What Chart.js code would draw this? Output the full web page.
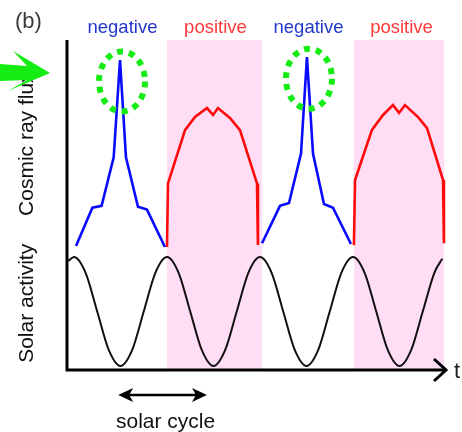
<!DOCTYPE html>
<html>
<head>
<meta charset="utf-8">
<script src="https://cdn.jsdelivr.net/npm/chart.js@4/dist/chart.umd.min.js"></script>
<style>
  html, body { margin: 0; padding: 0; background: #ffffff; }
  canvas { display: block; }
</style>
</head>
<body>
<canvas id="chart" width="462" height="432"></canvas>
<script>
// Time axis in arbitrary units: one solar cycle = 10 units, solar maxima at 0, 10, 20, ...
const periodNames = ['negative', 'positive', 'negative', 'positive'];
const periodCenters = [5, 15, 25, 35];
const positiveBands = [[10, 20.2], [30.1, 39.8]];
const solarCycleSpan = [4.75, 14.3];

// Cosmic ray flux (relative units) – negative polarity: sharp peak
const neg1T = [0.22, 1.98, 2.97, 4.27, 4.95, 5.59, 6.88, 7.85, 9.78];
const neg1F = [0.5, 21, 22, 48, 100, 48, 21.5, 20, 0];
const neg2T = [20.22, 22.15, 23.12, 24.41, 25.05, 25.7, 26.88, 27.85, 29.78];
const neg2F = [2, 22, 23.5, 50, 101.5, 50, 23, 21, 1.6];

// Cosmic ray flux – positive polarity: flat-topped plateau
const pos1T = [10.0, 10.11, 11.94, 13.01, 14.3, 14.95, 15.48, 16.77, 17.85, 19.68, 19.78];
const pos1F = [0, 34, 62.5, 69.5, 74.3, 70.6, 74.3, 69, 62.5, 34, 1];
const pos2T = [30.1, 30.22, 32.04, 33.23, 34.3, 34.95, 35.59, 36.99, 37.96, 39.68, 39.78];
const pos2F = [1, 35.8, 62.6, 70.6, 75.9, 71.7, 75.9, 69.5, 63.6, 35.8, 2];

// Solar activity (normalised)
const solarT = [-0.6, 0, 1.25, 2.5, 3.75, 5, 6.25, 7.5, 8.75, 10, 11.25, 12.5, 13.75, 15, 16.25, 17.5,
                18.75, 20, 21.25, 22.5, 23.75, 25, 26.25, 27.5, 28.75, 30, 31.25, 32.5, 33.75, 35,
                36.25, 37.5, 38.75, 39.6];
const solarA = [0.93, 1, 0.71, 0, -0.71, -1, -0.71, 0, 0.71, 1, 0.71, 0, -0.71, -1, -0.71, 0,
                0.71, 1, 0.71, 0, -0.71, -1, -0.71, 0, 0.71, 1, 0.71, 0, -0.71, -1,
                -0.71, 0, 0.71, 0.97];

const FONT = '"Liberation Sans", Arial, sans-serif';
const BLUE = '#0a0aff', RED = '#ff0a0a', PINK = 'rgb(255,221,245)', GREEN = '#14ec14';

const pts = (xs, ys) => xs.map((v, i) => ({ x: v, y: ys[i] }));

function lineSet(xs, ys, color, axis, width) {
  return {
    data: pts(xs, ys), yAxisID: axis, borderColor: color, borderWidth: width,
    pointRadius: 0, tension: 0, fill: false
  };
}

const solarSet = lineSet(solarT, solarA, '#111111', 'solar', 2);
solarSet.cubicInterpolationMode = 'monotone';

const decorations = {
  id: 'decorations',
  beforeDatasetsDraw(chart) {
    const { ctx, chartArea: a, scales: { x } } = chart;
    ctx.save();
    ctx.fillStyle = PINK;
    positiveBands.forEach(([s, e]) => {
      const l = x.getPixelForValue(s), r = x.getPixelForValue(e);
      ctx.fillRect(l, a.top, r - l, a.bottom - a.top);
    });
    ctx.restore();
  },
  afterDatasetsDraw(chart) {
    const { ctx, chartArea: a, scales: { x, flux, solar } } = chart;
    ctx.save();

    // axes
    ctx.strokeStyle = '#000';
    ctx.lineWidth = 3;
    ctx.lineCap = 'butt';
    ctx.beginPath();
    ctx.moveTo(a.left, a.top);
    ctx.lineTo(a.left, a.bottom + 1.5);
    ctx.moveTo(a.left - 1.5, a.bottom);
    ctx.lineTo(a.right, a.bottom);
    ctx.stroke();
    ctx.beginPath();
    ctx.lineJoin = 'miter';
    ctx.moveTo(a.right - 12, a.bottom - 11);
    ctx.lineTo(a.right, a.bottom);
    ctx.lineTo(a.right - 12, a.bottom + 11);
    ctx.stroke();

    // axis name "t"
    ctx.fillStyle = '#222';
    ctx.font = '22px ' + FONT;
    ctx.textAlign = 'left';
    ctx.textBaseline = 'alphabetic';
    ctx.fillText('t', a.right + 8, a.bottom + 8);

    // polarity labels
    ctx.font = '18.5px ' + FONT;
    ctx.textAlign = 'center';
    periodNames.forEach((name, i) => {
      ctx.fillStyle = name === 'negative' ? '#2238cc' : '#ff3838';
      ctx.fillText(name, x.getPixelForValue(periodCenters[i]) + 2, a.top - 7);
    });

    // panel label
    ctx.fillStyle = '#3a3a3a';
    ctx.font = '22px ' + FONT;
    ctx.textAlign = 'left';
    ctx.fillText('(b)', 15, 28);

    // vertical titles
    ctx.fillStyle = '#111';
    ctx.font = '21px ' + FONT;
    ctx.textAlign = 'center';
    [['Cosmic ray flux', flux.getPixelForValue(55)], ['Solar activity', solar.getPixelForValue(0.15)]]
      .forEach(([txt, cy]) => {
        ctx.save();
        ctx.translate(33, cy);
        ctx.rotate(-Math.PI / 2);
        ctx.fillText(txt, 0, 0);
        ctx.restore();
      });

    // solar cycle double arrow
    const l = x.getPixelForValue(solarCycleSpan[0]);
    const r = x.getPixelForValue(solarCycleSpan[1]);
    const ay = a.bottom + 25;
    ctx.strokeStyle = '#000';
    ctx.fillStyle = '#000';
    ctx.lineWidth = 2.5;
    ctx.beginPath();
    ctx.moveTo(l + 8, ay);
    ctx.lineTo(r - 8, ay);
    ctx.stroke();
    [[l, 1], [r, -1]].forEach(([px, d]) => {
      ctx.beginPath();
      ctx.moveTo(px, ay);
      ctx.lineTo(px + d * 15, ay - 7);
      ctx.lineTo(px + d * 11, ay);
      ctx.lineTo(px + d * 15, ay + 7);
      ctx.closePath();
      ctx.fill();
    });
    ctx.fillStyle = '#111';
    ctx.font = '21px ' + FONT;
    ctx.textAlign = 'center';
    ctx.fillText('solar cycle', (l + r) / 2 + 3, a.bottom + 58);

    // dotted rings around the negative-polarity peaks
    ctx.strokeStyle = GREEN;
    ctx.lineWidth = 6;
    ctx.setLineDash([6, 6]);
    [[neg1T, neg1F], [neg2T, neg2F]].forEach(([ts, fs]) => {
      const k = fs.indexOf(Math.max(...fs));
      const cx = x.getPixelForValue(ts[k]) + 2;
      const cy = flux.getPixelForValue(fs[k]) + 21.5;
      ctx.beginPath();
      ctx.ellipse(cx, cy, 23, 30, 0, 0, Math.PI * 2);
      ctx.stroke();
    });
    ctx.setLineDash([]);

    // green pointer arrow
    const tx = a.left - 17, ty = flux.getPixelForValue(93);
    const shape = [[-50, -9], [-23, -7], [-37, -22], [0, 0], [-42, 18], [-23, 7], [-50, 8]];
    ctx.fillStyle = GREEN;
    ctx.beginPath();
    shape.forEach(([dx, dy], i) => i ? ctx.lineTo(tx + dx, ty + dy) : ctx.moveTo(tx + dx, ty + dy));
    ctx.closePath();
    ctx.fill();

    ctx.restore();
  }
};

new Chart(document.getElementById('chart'), {
  type: 'line',
  data: {
    datasets: [
      solarSet,
      lineSet(neg1T, neg1F, BLUE, 'flux', 2.6),
      lineSet(pos1T, pos1F, RED, 'flux', 2.6),
      lineSet(neg2T, neg2F, BLUE, 'flux', 2.6),
      lineSet(pos2T, pos2F, RED, 'flux', 2.6)
    ]
  },
  options: {
    responsive: false,
    animation: false,
    layout: { padding: { left: 67, right: 16, top: 40, bottom: 62 } },
    plugins: { legend: { display: false }, tooltip: { enabled: false } },
    scales: {
      x: { type: 'linear', min: -0.75, max: 40, display: false },
      flux: { type: 'linear', position: 'left', min: -65.8, max: 110.7, display: false },
      solar: { type: 'linear', position: 'left', min: -1.073, max: 4.98, display: false }
    }
  },
  plugins: [decorations]
});
</script>
</body>
</html>
